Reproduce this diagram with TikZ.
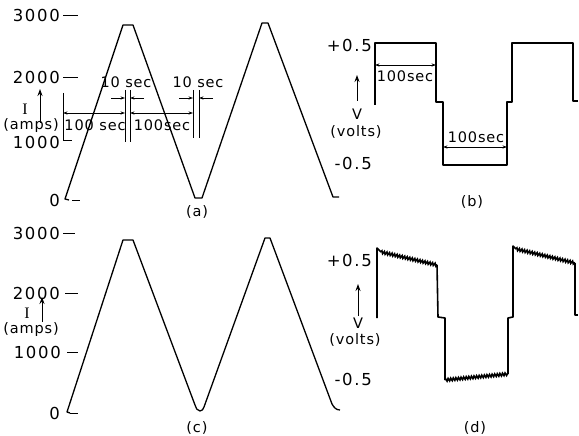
\documentclass[tikz,border=0pt]{standalone}
\usepackage{fontspec}
\setmainfont{DejaVu Sans}[LetterSpace=6]
\newfontfamily\numf{DejaVu Sans}[LetterSpace=10]
\newfontfamily\serf{Liberation Serif}
\usetikzlibrary{arrows.meta,decorations.pathmorphing}
\begin{document}
\begin{tikzpicture}[x=1pt,y=-1pt,
  wave/.style={line width=1.3pt, line join=round},
  dwave/.style={line width=1.6pt, line join=round},
  noisy/.style={line width=1.6pt, decorate, decoration={zigzag, segment length=2.6pt, amplitude=1.3pt}},
  thin/.style={line width=0.8pt},
  dimarr/.style={line width=0.8pt, {Stealth[length=4.5pt,width=3.2pt]}-{Stealth[length=4.5pt,width=3.2pt]}},
  inarr/.style={line width=0.8pt, -{Stealth[length=4.5pt,width=3.2pt]}},
  uparr/.style={line width=1pt, -{Stealth[length=7pt,width=5pt]}},
  lab/.style={font=\fontsize{14.5}{14}\selectfont, inner sep=0pt},
  num/.style={font=\numf\fontsize{16.5}{16}\selectfont, inner sep=0pt, anchor=east}]
\useasboundingbox (0,0) rectangle (579,436);

% ---------------- (a) ----------------
\node[num] (a3000) at (60,15) {3000};
\node[num] (a2000) at (60,77) {2000};
\node[num] (a1000) at (60,142) {1000};
\node[num] (a0) at (60,200) {0};
\draw[thin] (63,15) -- (78,15);
\draw[thin] (63,77) -- (78,77);
\draw[thin] (63,93) -- (63,140) -- (72,140);
\draw[thin] (72,200) -- (80,200);
\node[lab,font=\serf\fontsize{16}{16}\selectfont] (aI) at (25,109) {I};
\coordinate (aArT) at (40,123);
\coordinate (aArH) at (40,89);
\draw[uparr] (aArT) -- (aArH);
\node[lab] (aamps) at (31,126) {(amps)};
\draw[wave] (69,200) -- (65,199) -- (123,25) -- (133,25) -- (195,198) -- (202,198) -- (262,23) -- (268,23) -- (333,197) -- (339,197);
% extension lines
\draw[thin] (125,90) -- (125,142);
\draw[thin] (130,90) -- (130,142);
\draw[thin] (193,90) -- (193,138);
\draw[thin] (199,90) -- (199,138);
\coordinate (d1a) at (63,113);
\coordinate (d1b) at (125,113);
\coordinate (d2a) at (130,113);
\coordinate (d2b) at (193,113);
\draw[dimarr] (d1a) -- (d1b);
\draw[dimarr] (d2a) -- (d2b);
\node[lab] (t100a) at (95,125) {100 sec};
\node[lab] (t100b) at (162,125) {100sec};
\coordinate (e1) at (111,98);
\coordinate (e2) at (144,98);
\coordinate (e3) at (179,98);
\coordinate (e4) at (213,98);
\draw[inarr] (e1) -- (125,98);
\draw[inarr] (e2) -- (130,98);
\draw[inarr] (e3) -- (193,98);
\draw[inarr] (e4) -- (199,98);
\node[lab] (t10a) at (126,82) {10 sec};
\node[lab] (t10b) at (198,82) {10 sec};
\node[lab] (capa) at (197,212) {(a)};

% ---------------- (b) ----------------
\node[num] (bp) at (372,45) {+0.5};
\node[num] (bm) at (372,163) {-0.5};
\coordinate (bArT) at (357,101);
\coordinate (bArH) at (357,75);
\draw[uparr] (bArT) -- (bArH);
\node[lab] (bV) at (357,114) {V};
\node[lab] (bvolts) at (356,132) {(volts)};
\draw[wave] (375,105) -- (375,43) -- (436,43) -- (436,102) -- (443,102) -- (443,165) -- (507,165) -- (507,102) -- (512,102) -- (512,43) -- (573,43) -- (573,101) -- (578,101);
\coordinate (b1a) at (375,65);
\coordinate (b1b) at (436,65);
\coordinate (b2a) at (443,147);
\coordinate (b2b) at (507,147);
\draw[dimarr] (b1a) -- (b1b);
\draw[dimarr] (b2a) -- (b2b);
\node[lab] (bt1) at (405,76) {100sec};
\node[lab] (bt2) at (476,137) {100sec};
\node[lab] (capb) at (472,202) {(b)};

% ---------------- (c) ----------------
\node[num] (c3000) at (60,233) {3000};
\node[num] (c2000) at (60,293) {2000};
\node[num] (c1000) at (61,352) {1000};
\node[num] (c0) at (60,413) {0};
\draw[thin] (63,233) -- (75,233);
\draw[thin] (65,293) -- (78,293);
\draw[thin] (67,352) -- (78,352);
\draw[thin] (70,413) -- (78,413);
\node[lab,font=\serf\fontsize{16}{16}\selectfont] (cI) at (27,313) {I};
\coordinate (cArT) at (42,322);
\coordinate (cArH) at (42,297);
\draw[uparr] (cArT) -- (cArH);
\node[lab] (camps) at (31,330) {(amps)};
\draw[wave] (70,413) -- (67,412) -- (123,240) -- (133,240) -- (195,405) to[out=-70,in=180] (200,411) to[out=0,in=-110] (204,407) -- (265,238) -- (270,238) -- (332,404) to[out=-60,in=180] (340,410);
\node[lab] (capc) at (197,428) {(c)};

% ---------------- (d) ----------------
\node[num] (dp) at (372,260) {+0.5};
\node[num] (dm) at (372,379) {-0.5};
\coordinate (dArT) at (358,316);
\coordinate (dArH) at (358,284);
\draw[uparr] (dArT) -- (dArH);
\node[lab] (dV) at (358,323) {V};
\node[lab] (dvolts) at (355,340) {(volts)};
\draw[dwave] (377,318) -- (377,248) -- (381,252);
\draw[noisy] (381,252) -- (437,265);
\draw[dwave] (437,265) -- (438,317) -- (445,318) -- (445,380);
\draw[noisy] (445,380) -- (508,374);
\draw[dwave] (508,374) -- (508,318) -- (513,317) -- (513,246) -- (516,249);
\draw[noisy] (516,249) -- (575,263);
\draw[dwave] (575,263) -- (575,315) -- (578,315);
\node[lab] (capd) at (475,428) {(d)};
\end{tikzpicture}
\end{document}
